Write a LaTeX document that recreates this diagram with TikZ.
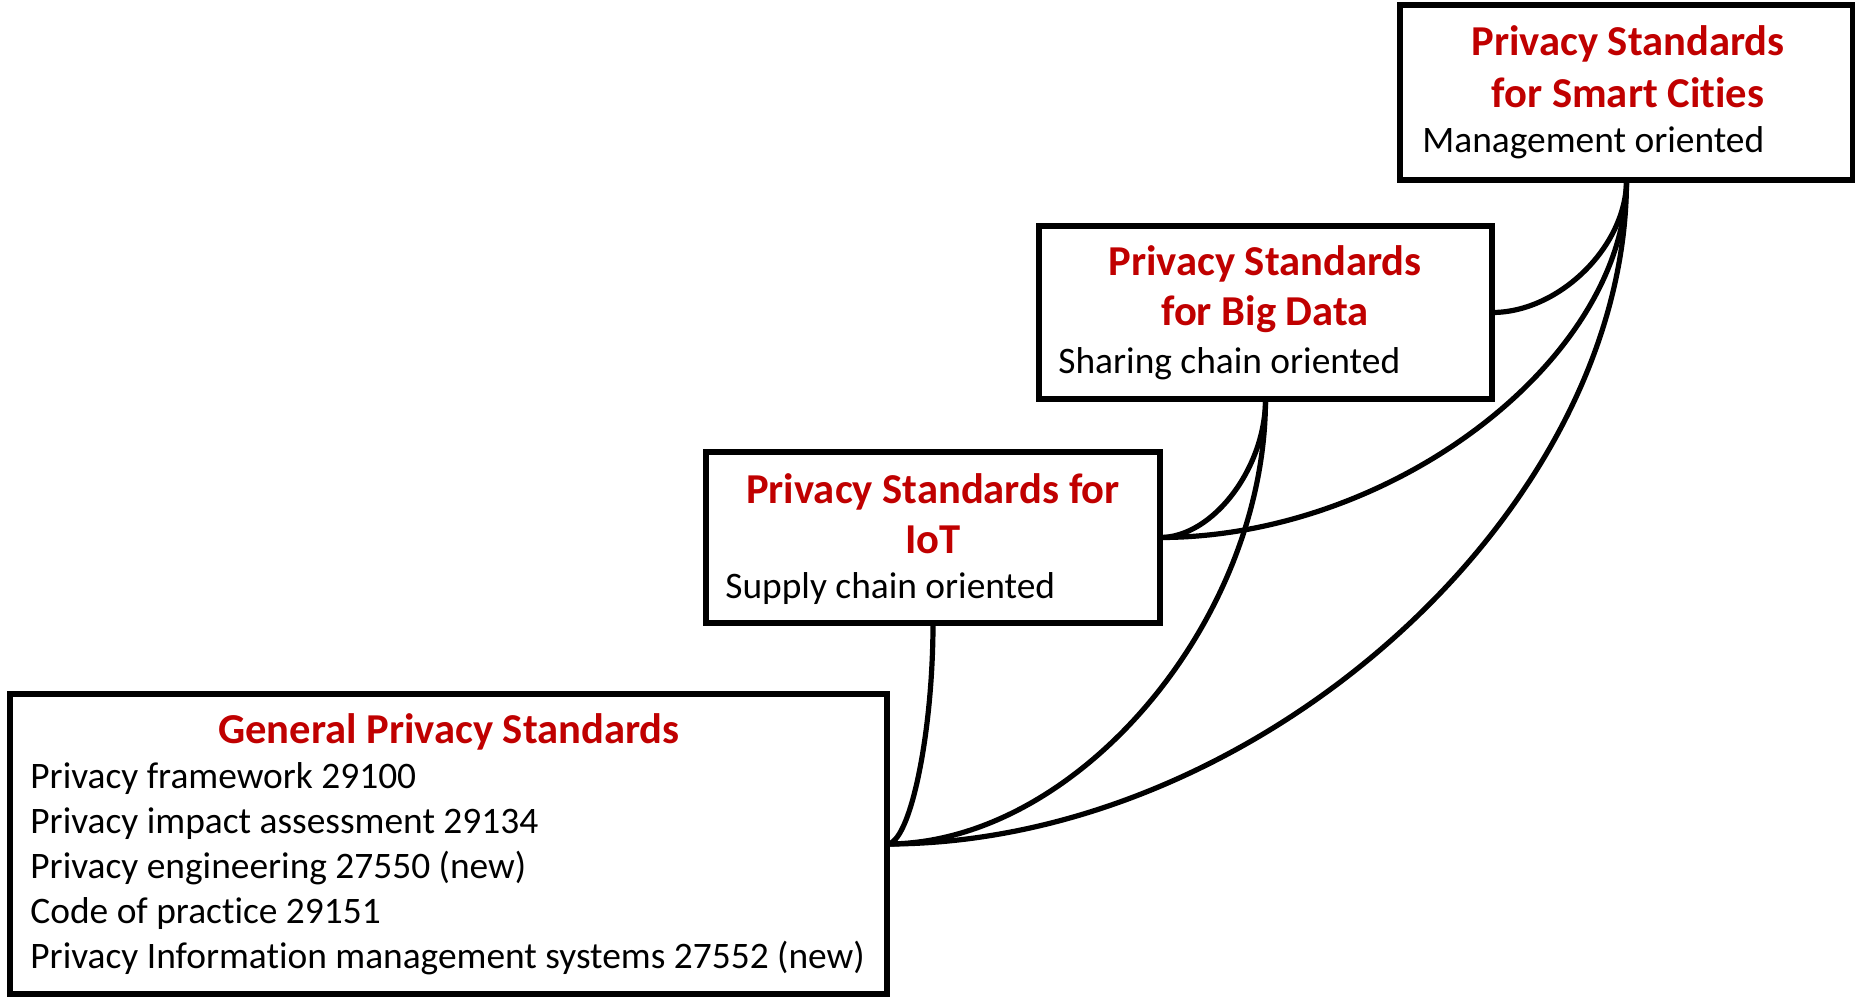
\documentclass[tikz,border=0pt]{standalone}
\usepackage{fontspec}
\setmainfont{Carlito}[Ligatures=NoCommon]
\usetikzlibrary{calc}
\definecolor{titlered}{HTML}{C00000}
\newcommand\arcconn[2]{\draw[conn] let \p1=(#1), \p2=(#2) in (\p1) .. controls (\x1,{\y1+0.5*(\y2-\y1)}) and ({\x2+0.5*(\x1-\x2)},\y2) .. (\p2);}
\begin{document}
\begin{tikzpicture}[x=0.5pt,y=-0.5pt,
  box/.style={draw,line width=2.6pt,inner sep=0pt,outer sep=0pt,fill=white},
  ttl/.style={anchor=base,inner sep=0pt,text=titlered,font=\fontsize{21.3}{25}\selectfont\bfseries},
  bodytxt/.style={anchor=base west,inner sep=0pt,font=\fontsize{18.7}{22.5}\selectfont},
  conn/.style={line width=2.6pt,line cap=round}]
\useasboundingbox (0,0) rectangle (1855,997);
% boxes
\node[box,minimum width=226.5pt,minimum height=87.5pt] (sc) at (1626.5,92.5) {};
\node[box,minimum width=226.5pt,minimum height=86.5pt] (bd) at (1265.5,312.5) {};
\node[box,minimum width=227pt,minimum height=85.5pt] (iot) at (933,537.5) {};
\node[box,minimum width=438.5pt,minimum height=150pt] (gen) at (448.5,844) {};
% texts
\node[ttl] (sc1) at (1628,55) {Privacy Standards};
\node[ttl] (sc2) at (1628,107) {for Smart Cities};
\node[bodytxt] (sc3) at (1422,152) {Management oriented};
\node[ttl] (bd1) at (1265,275) {Privacy Standards};
\node[ttl] (bd2) at (1265,325) {for Big Data};
\node[bodytxt] (bd3) at (1058,373) {Sharing chain oriented};
\node[ttl] (iot1) at (933,503) {Privacy Standards for};
\node[ttl] (iot2) at (933,553) {IoT};
\node[bodytxt] (iot3) at (725,598) {Supply chain oriented};
\node[ttl] (gen0) at (449,743) {General Privacy Standards};
\node[bodytxt] (gen1) at (30,788) {Privacy framework 29100};
\node[bodytxt] (gen2) at (30,833) {Privacy impact assessment 29134};
\node[bodytxt] (gen3) at (30,878) {Privacy engineering 27550 (new)};
\node[bodytxt] (gen4) at (30,923) {Code of practice 29151};
\node[bodytxt] (gen5) at (30,968) {Privacy Information management systems 27552 (new)};
% connectors
\arcconn{sc.south}{bd.east}
\arcconn{sc.south}{iot.east}
\arcconn{sc.south}{gen.east}
\arcconn{bd.south}{iot.east}
\arcconn{bd.south}{gen.east}
\arcconn{iot.south}{gen.east}
\end{tikzpicture}
\end{document}
